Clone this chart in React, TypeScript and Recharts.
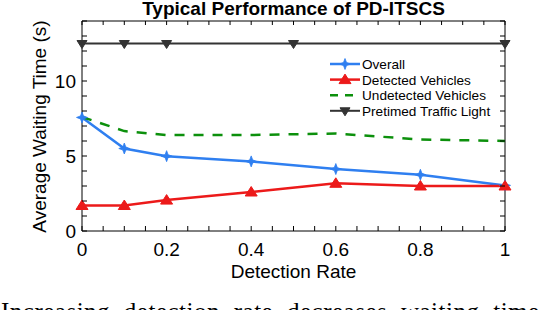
import React from "react";
import {
  LineChart,
  Line,
  XAxis,
  YAxis,
  ReferenceLine,
  Legend,
} from "recharts";

// detection rate samples
const RATES = [0, 0.1, 0.2, 0.4, 0.6, 0.8, 1];
const OVERALL = [7.57, 5.5, 4.99, 4.64, 4.13, 3.75, 3.04];
const DETECTED = [1.7, 1.7, 2.06, 2.6, 3.18, 3.0, 3.0];
const UNDETECTED = [7.6, 6.66, 6.4, 6.4, 6.5, 6.1, 6.0];
// pretimed light only has markers at a few rates
const PRETIMED_RATES = [0, 0.1, 0.2, 0.5, 1];
const PRETIMED = [12.5, 12.5, 12.5, 12.5, 12.5];

const X_TICKS = [
  0, 0.05, 0.1, 0.15, 0.2, 0.25, 0.3, 0.35, 0.4, 0.45, 0.5, 0.55, 0.6, 0.65,
  0.7, 0.75, 0.8, 0.85, 0.9, 0.95, 1,
];
const X_LABELS = [0, 0.2, 0.4, 0.6, 0.8, 1];
const Y_TICKS = [0, 1, 2, 3, 4, 5, 6, 7, 8, 9, 10, 11, 12, 13, 14];
const Y_LABELS = [0, 5, 10];

const FONT = '"Liberation Sans", Arial, sans-serif';
const PLOT_TOP = 21;
const PLOT_RIGHT = 505;

const BLUE = "#2f7ff0";
const RED = "#ec1a1a";
const GREEN = "#0c900c";
const DARK = "#333333";

const toRows = (xs: number[], ys: number[]) =>
  xs.map((x, i) => ({ x, v: ys[i] }));

function Star({ cx, cy, color }: { cx: number; cy: number; color: string }) {
  const s = 5.5;
  const k = 1.5;
  const pts = [
    [0, -s], [k, -k], [s, 0], [k, k], [0, s], [-k, k], [-s, 0], [-k, -k],
  ]
    .map(([a, b]) => `${cx + a},${cy + b}`)
    .join(" ");
  return <polygon points={pts} fill={color} stroke={color} strokeWidth={0.8} />;
}

function TriUp({ cx, cy, color }: { cx: number; cy: number; color: string }) {
  return (
    <polygon
      points={`${cx},${cy - 5.5} ${cx + 6},${cy + 4} ${cx - 6},${cy + 4}`}
      fill={color}
      stroke={color}
    />
  );
}

function TriDown({ cx, cy, color }: { cx: number; cy: number; color: string }) {
  return (
    <polygon
      points={`${cx - 5},${cy - 3} ${cx + 5},${cy - 3} ${cx},${cy + 5}`}
      fill={color}
      stroke={color}
    />
  );
}

const SERIES = [
  { name: "Overall", data: toRows(RATES, OVERALL), color: BLUE, width: 2.5, dash: undefined, marker: Star },
  { name: "Detected Vehicles", data: toRows(RATES, DETECTED), color: RED, width: 2.5, dash: undefined, marker: TriUp },
  { name: "Undetected Vehicles", data: toRows(RATES, UNDETECTED), color: GREEN, width: 2.5, dash: "10 9", marker: null },
  { name: "Pretimed Traffic Light", data: toRows(PRETIMED_RATES, PRETIMED), color: DARK, width: 2, dash: undefined, marker: TriDown },
];

function XTick(props: any) {
  const { x, y, payload } = props;
  const v = payload.value;
  const show = X_LABELS.some((l) => Math.abs(l - v) < 1e-6);
  return (
    <g>
      <line x1={x} x2={x} y1={y} y2={y - 5} stroke="#000" />
      <line x1={x} x2={x} y1={PLOT_TOP} y2={PLOT_TOP + 4} stroke="#000" />
      {show && (
        <text x={x} y={y + 25} textAnchor="middle" fontSize={19} fontFamily={FONT} fill="#000">
          {String(v)}
        </text>
      )}
    </g>
  );
}

function YTick(props: any) {
  const { x, y, payload } = props;
  const v = payload.value;
  const show = Y_LABELS.includes(v);
  return (
    <g>
      <line x1={x} x2={x + 5} y1={y} y2={y} stroke="#000" />
      <line x1={PLOT_RIGHT} x2={PLOT_RIGHT - 5} y1={y} y2={y} stroke="#000" />
      {show && (
        <text x={x - 6} y={y + 7} textAnchor="end" fontSize={19} fontFamily={FONT} fill="#000">
          {String(v)}
        </text>
      )}
    </g>
  );
}

function LegendBox() {
  return (
    <svg width={190} height={66}>
      {SERIES.map((s, i) => {
        const cy = 9 + i * 15.6;
        const M = s.marker;
        return (
          <g key={s.name}>
            <line
              x1={2}
              x2={32}
              y1={cy}
              y2={cy}
              stroke={s.color}
              strokeWidth={s.width}
              strokeDasharray={s.dash ? "8 7" : undefined}
            />
            {M && <M cx={17} cy={cy} color={s.color} />}
            <text x={34} y={cy + 5} fontSize={13.6} fontFamily={FONT} fill="#000">
              {s.name}
            </text>
          </g>
        );
      })}
    </svg>
  );
}

export default function App() {
  return (
    <div
      style={{
        position: "absolute",
        left: 0,
        top: 0,
        width: 546,
        height: 310,
        background: "#fff",
        overflow: "hidden",
      }}
    >
      <LineChart
        width={546}
        height={310}
        margin={{ top: PLOT_TOP, right: 546 - PLOT_RIGHT, left: 0, bottom: 39 }}
      >
        <XAxis
          type="number"
          dataKey="x"
          domain={[0, 1]}
          ticks={X_TICKS}
          interval={0}
          height={40}
          tickSize={0}
          tickMargin={0}
          tick={<XTick />}
          axisLine={{ stroke: "#000" }}
          tickLine={false}
        />
        <YAxis
          type="number"
          domain={[0, 14]}
          ticks={Y_TICKS}
          interval={0}
          width={82}
          tickSize={0}
          tickMargin={0}
          tick={<YTick />}
          axisLine={{ stroke: "#000" }}
          tickLine={false}
        />
        <ReferenceLine y={14} stroke="#000" />
        <ReferenceLine x={1} stroke="#000" />
        {SERIES.map((s) => {
          const M = s.marker;
          return (
            <Line
              key={s.name}
              name={s.name}
              data={s.data}
              dataKey="v"
              type="linear"
              stroke={s.color}
              strokeWidth={s.width}
              strokeDasharray={s.dash}
              dot={
                M
                  ? (p: any) => <M key={`${s.name}-${p.index}`} cx={p.cx} cy={p.cy} color={s.color} />
                  : false
              }
              activeDot={false}
              isAnimationActive={false}
            />
          );
        })}
        <Legend
          layout="horizontal"
          verticalAlign="middle"
          align="center"
          content={() => <LegendBox />}
          wrapperStyle={{ left: 328, top: 55, width: 190, height: 66 }}
        />
      </LineChart>
      <svg
        width={546}
        height={330}
        style={{ position: "absolute", left: 0, top: 0, pointerEvents: "none" }}
      >
        <text x={293.5} y={15} textAnchor="middle" fontSize={19} fontWeight="bold" fontFamily={FONT}>
          Typical Performance of PD-ITSCS
        </text>
        <text x={293.5} y={278} textAnchor="middle" fontSize={19} fontFamily={FONT}>
          Detection Rate
        </text>
        <text
          x={46}
          y={126.5}
          textAnchor="middle"
          fontSize={19}
          fontFamily={FONT}
          transform="rotate(-90 46 126.5)"
        >
          Average Waiting Time (s)
        </text>
        <text
          x={1}
          y={320}
          fontSize={25}
          fontFamily={'"Liberation Serif", "Times New Roman", serif'}
          style={{ wordSpacing: 7, letterSpacing: 0.5 }}
        >
          Increasing detection rate decreases waiting time
        </text>
      </svg>
    </div>
  );
}
